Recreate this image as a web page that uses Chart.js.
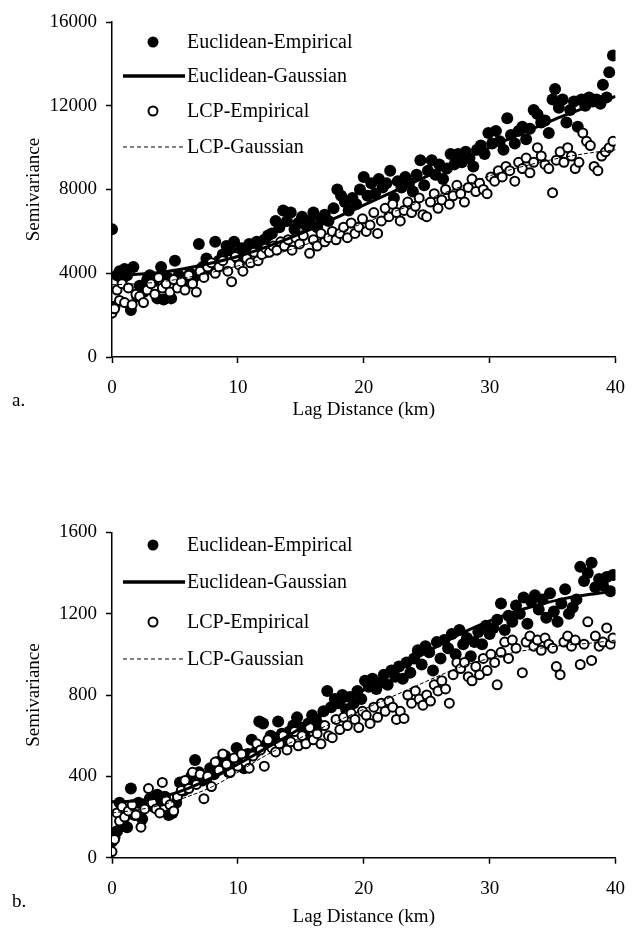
<!DOCTYPE html>
<html>
<head>
<meta charset="utf-8">
<script src="https://cdn.jsdelivr.net/npm/chart.js@4.4.1/dist/chart.umd.min.js"></script>
<style>
  body { margin: 0; background: #fff; width: 639px; height: 931px; position: relative; overflow: hidden; }
  canvas { position: absolute; left: 0; }
  .tag { position: absolute; left: 12px; font: 19px "Liberation Serif", "Times New Roman", serif; color: #000; }
</style>
</head>
<body>
<canvas id="chartA" width="639" height="440" style="top:0"></canvas>
<canvas id="chartB" width="639" height="471" style="top:460px"></canvas>
<div class="tag" style="top:389px">a.</div>
<div class="tag" style="top:890px">b.</div>
<script>
// lag distance (km) ticks
const lagTicks = [0, 10, 20, 30, 40];
const semTicksA = [0, 4000, 8000, 12000, 16000];
const semTicksB = [0, 400, 800, 1200, 1600];

// panel a - empirical semivariance, [lag, semivariance]
const eucEmpA = [
    [0.0, 6100], [0.2, 2400], [0.4, 3900], [0.6, 4100], [0.8, 3700], [1.0, 4200], [1.2, 3900], [1.5, 2250],
    [1.7, 4300], [2.0, 2900], [2.2, 3400], [2.5, 3100], [2.8, 3700], [3.0, 3900], [3.3, 3600], [3.6, 2800],
    [3.9, 4300], [4.1, 2750], [4.4, 3800], [4.7, 2800], [5.0, 4600], [5.3, 3900], [5.6, 3400], [5.9, 3700],
    [6.2, 4000], [6.5, 3800], [6.9, 5400], [7.2, 4300], [7.5, 4700], [7.8, 4200], [8.2, 5500], [8.5, 4600],
    [8.8, 4900], [9.1, 5300], [9.4, 5100], [9.7, 5500], [10.0, 4700], [10.3, 5200], [10.6, 4900], [10.9, 5400],
    [11.2, 5100], [11.5, 5500], [11.8, 5300], [12.1, 5600], [12.4, 5800], [12.7, 5900], [13.0, 6500], [13.3, 6200],
    [13.6, 7000], [13.9, 6500], [14.2, 6900], [14.5, 6100], [14.8, 6400], [15.1, 6700], [15.4, 6300], [15.7, 6500],
    [16.0, 6900], [16.3, 6200], [16.6, 6600], [16.9, 6800], [17.2, 6500], [17.6, 7100], [17.9, 8000], [18.2, 7700],
    [18.5, 7400], [18.8, 7000], [19.1, 7600], [19.4, 7300], [19.7, 8000], [20.0, 8600], [20.3, 7700], [20.6, 8300],
    [20.9, 7800], [21.2, 8500], [21.5, 8100], [21.8, 8300], [22.1, 8900], [22.4, 7600], [22.7, 8400], [23.0, 8100],
    [23.3, 8600], [23.6, 8300], [23.9, 7900], [24.2, 8700], [24.5, 9400], [24.8, 8200], [25.1, 8900], [25.4, 9400],
    [25.7, 8700], [26.0, 9200], [26.3, 8500], [26.6, 9000], [26.9, 9700], [27.2, 9200], [27.5, 9700], [27.8, 9300],
    [28.1, 9800], [28.4, 9500], [28.7, 9100], [29.0, 9900], [29.3, 10100], [29.6, 9700], [29.9, 10700], [30.2, 10200],
    [30.5, 10800], [30.8, 10300], [31.1, 9900], [31.4, 11400], [31.7, 10600], [32.0, 10200], [32.3, 10800], [32.6, 11000],
    [32.9, 10400], [33.2, 10900], [33.5, 11800], [33.8, 11600], [34.1, 11200], [34.4, 11300], [34.7, 10700], [35.0, 12300],
    [35.2, 12800], [35.5, 11900], [35.8, 12300], [36.1, 11200], [36.4, 11800], [36.7, 12200], [37.0, 11000], [37.3, 12300],
    [37.6, 12000], [37.9, 12400], [38.2, 12200], [38.5, 12300], [38.8, 12100], [39.0, 13000], [39.3, 12400], [39.5, 13600],
    [39.8, 14400]
];
const lcpEmpA = [
    [0.0, 2100], [0.2, 2300], [0.4, 3200], [0.6, 2700], [0.8, 3500], [1.0, 2600], [1.3, 3300], [1.6, 2500],
    [1.9, 3000], [2.2, 2900], [2.5, 2600], [2.8, 3200], [3.1, 3500], [3.4, 3000], [3.7, 3800], [4.0, 3300],
    [4.3, 3500], [4.6, 3100], [4.9, 3700], [5.2, 3300], [5.5, 3600], [5.8, 3200], [6.1, 3900], [6.4, 3500],
    [6.7, 3100], [7.0, 4100], [7.3, 3800], [7.6, 4300], [7.9, 4500], [8.2, 4000], [8.5, 4300], [8.8, 4600],
    [9.2, 4100], [9.5, 3600], [9.8, 4800], [10.1, 4400], [10.4, 4100], [10.7, 4700], [11.0, 4500], [11.3, 5000],
    [11.6, 4600], [11.9, 4900], [12.2, 5200], [12.5, 5000], [12.8, 5300], [13.1, 5100], [13.4, 5500], [13.7, 5300],
    [14.0, 5600], [14.3, 5100], [14.6, 5700], [14.9, 5400], [15.2, 5800], [15.7, 4950], [16.0, 5600], [16.3, 5300],
    [16.6, 5900], [16.9, 5500], [17.2, 5700], [17.5, 6000], [17.8, 5600], [18.1, 5900], [18.4, 6200], [18.7, 5700],
    [19.0, 6400], [19.3, 5900], [19.6, 6200], [19.9, 6600], [20.2, 6000], [20.5, 6300], [20.8, 6900], [21.1, 5900],
    [21.4, 6500], [21.7, 7100], [22.0, 6700], [22.3, 7300], [22.6, 6900], [22.9, 6500], [23.2, 7000], [23.5, 7400],
    [23.8, 6900], [24.1, 7200], [24.4, 7600], [24.7, 6800], [25.0, 6700], [25.3, 7400], [25.6, 7800], [25.9, 7100],
    [26.2, 7500], [26.5, 8000], [26.8, 7300], [27.1, 7700], [27.4, 8200], [27.7, 7800], [28.0, 7400], [28.3, 8100],
    [28.6, 8500], [28.9, 7900], [29.2, 8300], [29.5, 8000], [29.8, 7800], [30.1, 8600], [30.4, 8400], [30.7, 8900],
    [31.0, 8600], [31.3, 9100], [31.6, 8900], [32.0, 8400], [32.3, 9300], [32.6, 9000], [32.9, 9500], [33.2, 8800],
    [33.5, 9300], [33.8, 10000], [34.1, 9600], [34.4, 9200], [34.7, 9000], [35.0, 7850], [35.3, 9400], [35.6, 9800],
    [35.9, 9300], [36.2, 10000], [36.5, 9600], [36.8, 9000], [37.1, 9300], [37.4, 10700], [37.7, 10300], [38.0, 10100],
    [38.3, 9100], [38.6, 8900], [38.9, 9600], [39.2, 9800], [39.5, 10000], [39.8, 10300]
];
// panel a - fitted gaussian models
const eucGauA = [
    [0, 3900], [2, 3950], [4, 4050], [6, 4250], [8, 4500], [10, 4800], [12, 5200], [14, 5650], [16, 6150], [18, 6700],
    [20, 7250], [22, 7800], [24, 8350], [26, 8900], [28, 9450], [30, 10000], [32, 10550], [34, 11050], [36, 11550], [38, 12000], [40, 12450]
];
const lcpGauA = [
    [0, 3450], [2, 3500], [4, 3600], [6, 3800], [8, 4050], [10, 4350], [12, 4700], [14, 5100], [16, 5500], [18, 5950],
    [20, 6400], [22, 6850], [24, 7300], [26, 7750], [28, 8200], [30, 8650], [32, 9000], [34, 9300], [36, 9550], [38, 9750], [40, 9900]
];

// panel b - empirical semivariance
const eucEmpB = [
    [0.0, 80], [0.2, 100], [0.4, 130], [0.6, 270], [0.8, 160], [1.0, 200], [1.2, 150], [1.5, 340],
    [1.8, 210], [2.1, 270], [2.4, 190], [2.7, 260], [3.0, 290], [3.3, 250], [3.6, 310], [3.9, 280],
    [4.2, 300], [4.5, 210], [4.8, 220], [5.1, 270], [5.4, 370], [5.7, 330], [6.0, 360], [6.3, 400],
    [6.6, 480], [6.9, 420], [7.2, 380], [7.5, 390], [7.8, 440], [8.1, 410], [8.4, 470], [8.7, 450],
    [9.0, 500], [9.3, 420], [9.6, 480], [9.9, 540], [10.2, 470], [10.5, 440], [10.8, 510], [11.1, 580],
    [11.4, 520], [11.7, 670], [12.0, 660], [12.3, 560], [12.6, 600], [12.9, 590], [13.2, 670], [13.5, 610],
    [13.8, 560], [14.1, 620], [14.4, 650], [14.7, 690], [15.0, 640], [15.3, 600], [15.6, 660], [15.9, 700],
    [16.2, 680], [16.5, 650], [16.8, 720], [17.1, 820], [17.4, 740], [17.7, 780], [18.0, 760], [18.3, 800],
    [18.6, 730], [18.9, 790], [19.2, 760], [19.5, 820], [19.8, 780], [20.1, 870], [20.4, 840], [20.7, 880],
    [21.0, 830], [21.3, 860], [21.6, 900], [21.9, 850], [22.2, 920], [22.5, 890], [22.8, 940], [23.1, 880],
    [23.4, 960], [23.7, 910], [24.0, 980], [24.3, 1020], [24.6, 950], [24.9, 1040], [25.2, 1010], [25.5, 920],
    [25.8, 1060], [26.1, 980], [26.4, 1070], [26.7, 1030], [27.0, 1100], [27.3, 1000], [27.6, 1120], [27.9, 1050],
    [28.2, 1080], [28.5, 990], [28.8, 1060], [29.1, 1110], [29.4, 1050], [29.7, 1140], [30.0, 1100], [30.3, 1130],
    [30.6, 1170], [30.9, 1250], [31.2, 1120], [31.5, 1190], [31.8, 1160], [32.1, 1240], [32.4, 1200], [32.7, 1280],
    [33.0, 1150], [33.3, 1260], [33.6, 1290], [33.9, 1220], [34.2, 1270], [34.5, 1180], [34.8, 1300], [35.1, 1210],
    [35.4, 1160], [35.7, 1250], [36.0, 1320], [36.3, 1200], [36.6, 1230], [36.9, 1270], [37.2, 1430], [37.5, 1360],
    [37.8, 1400], [38.1, 1450], [38.4, 1330], [38.7, 1370], [39.0, 1340], [39.3, 1380], [39.6, 1310], [39.8, 1390]
];
const lcpEmpB = [
    [0.0, 30], [0.2, 90], [0.4, 220], [0.6, 180], [0.8, 250], [1.0, 200], [1.3, 230], [1.6, 260],
    [1.9, 210], [2.3, 150], [2.6, 240], [2.9, 340], [3.2, 270], [3.5, 240], [3.8, 220], [4.0, 370],
    [4.3, 280], [4.6, 260], [4.9, 230], [5.2, 300], [5.5, 330], [5.8, 380], [6.1, 340], [6.4, 420],
    [6.7, 360], [7.0, 410], [7.3, 290], [7.6, 400], [7.9, 350], [8.2, 470], [8.5, 430], [8.8, 510],
    [9.1, 460], [9.4, 420], [9.7, 490], [10.0, 450], [10.3, 510], [10.6, 470], [10.9, 440], [11.2, 500],
    [11.5, 560], [11.8, 530], [12.1, 450], [12.4, 580], [12.7, 540], [13.0, 520], [13.3, 560], [13.6, 600],
    [13.9, 530], [14.2, 570], [14.5, 620], [14.8, 550], [15.1, 600], [15.4, 560], [15.7, 640], [16.0, 580],
    [16.3, 610], [16.6, 560], [16.9, 650], [17.2, 600], [17.5, 590], [17.8, 680], [18.1, 630], [18.4, 690],
    [18.7, 650], [19.0, 710], [19.3, 680], [19.6, 640], [19.9, 720], [20.2, 700], [20.5, 660], [20.8, 740],
    [21.1, 690], [21.4, 760], [21.7, 720], [22.0, 770], [22.3, 740], [22.6, 680], [22.9, 720], [23.2, 685],
    [23.5, 800], [23.8, 760], [24.1, 820], [24.4, 780], [24.7, 750], [25.0, 800], [25.3, 770], [25.6, 850],
    [25.9, 820], [26.2, 870], [26.5, 830], [26.8, 760], [27.1, 900], [27.4, 960], [27.7, 930], [28.0, 960],
    [28.3, 890], [28.6, 870], [28.9, 940], [29.2, 900], [29.5, 980], [29.8, 920], [30.1, 1000], [30.4, 960],
    [30.6, 850], [30.9, 1010], [31.2, 1060], [31.5, 980], [31.8, 1070], [32.1, 1030], [32.6, 910], [32.9, 1060],
    [33.2, 1090], [33.5, 1040], [33.8, 1070], [34.1, 1020], [34.4, 1080], [34.7, 1050], [35.0, 1030], [35.3, 940],
    [35.6, 900], [35.9, 1060], [36.2, 1090], [36.5, 1040], [36.8, 1070], [37.2, 950], [37.5, 1050], [37.8, 1160],
    [38.1, 970], [38.4, 1090], [38.7, 1040], [39.0, 1060], [39.3, 1130], [39.6, 1050], [39.8, 1080]
];
// panel b - fitted gaussian models
const eucGauB = [
    [0, 275], [2, 280], [4, 300], [6, 340], [8, 395], [10, 460], [12, 530], [14, 600], [16, 675], [18, 750],
    [20, 825], [22, 900], [24, 975], [26, 1045], [28, 1110], [30, 1165], [32, 1210], [34, 1245], [36, 1275], [38, 1295], [40, 1310]
];
const lcpGauB = [
    [0, 220], [2, 235], [4, 260], [6, 300], [8, 350], [10, 420], [12, 495], [14, 560], [16, 620], [18, 675],
    [20, 730], [22, 785], [24, 840], [26, 895], [28, 945], [30, 980], [32, 1010], [34, 1030], [36, 1045], [38, 1055], [40, 1070]
];

const serif = '"Liberation Serif", "Times New Roman", serif';
const legendLabels = ['Euclidean-Empirical', 'Euclidean-Gaussian', 'LCP-Empirical', 'LCP-Gaussian'];

function toXY(arr) {
    return arr.map(function (p) { return { x: p[0], y: p[1] }; });
}

// legend drawn inside the plot, rows given as offsets from the plot top
const insideLegend = {
    id: 'insideLegend',
    afterDraw: function (chart, args, opts) {
        const ctx = chart.ctx;
        const left = chart.chartArea.left;
        const top = chart.chartArea.top;
        ctx.save();
        ctx.font = '20px ' + serif;
        ctx.fillStyle = '#000';
        ctx.textBaseline = 'middle';
        opts.rows.forEach(function (dy, i) {
            const y = top + dy;
            ctx.strokeStyle = '#000';
            if (i === 0) {
                ctx.beginPath();
                ctx.arc(left + 41, y, 5.5, 0, Math.PI * 2);
                ctx.fill();
            } else if (i === 1) {
                ctx.lineWidth = 3.5;
                ctx.setLineDash([]);
                ctx.beginPath();
                ctx.moveTo(left + 11, y);
                ctx.lineTo(left + 73, y);
                ctx.stroke();
            } else if (i === 2) {
                ctx.lineWidth = 2;
                ctx.fillStyle = '#fff';
                ctx.beginPath();
                ctx.arc(left + 41, y, 4.5, 0, Math.PI * 2);
                ctx.fill();
                ctx.stroke();
                ctx.fillStyle = '#000';
            } else {
                ctx.lineWidth = 1;
                ctx.setLineDash([4, 3]);
                ctx.beginPath();
                ctx.moveTo(left + 11, y);
                ctx.lineTo(left + 73, y);
                ctx.stroke();
                ctx.setLineDash([]);
            }
            ctx.fillText(legendLabels[i], left + 75, y + 1);
        });
        ctx.restore();
    }
};

function plainTick(value) {
    return String(value);
}

function makeChart(id, emp1, emp2, gau1, gau2, yTicks, pad, xHeight, xTitlePad, rows) {
    const ctx = document.getElementById(id).getContext('2d');
    return new Chart(ctx, {
        type: 'scatter',
        data: {
            datasets: [
                {
                    label: 'Euclidean-Gaussian', type: 'line', data: toXY(gau1), order: 1,
                    borderColor: '#000', borderWidth: 3, pointRadius: 0, fill: false,
                    tension: 0.4, cubicInterpolationMode: 'monotone'
                },
                {
                    label: 'LCP-Gaussian', type: 'line', data: toXY(gau2), order: 2,
                    borderColor: '#000', borderWidth: 1, borderDash: [4, 2], pointRadius: 0, fill: false,
                    tension: 0.4, cubicInterpolationMode: 'monotone'
                },
                {
                    label: 'LCP-Empirical', data: toXY(emp2), order: 3,
                    pointRadius: 4.5, pointBorderWidth: 2,
                    pointBackgroundColor: '#fff', pointBorderColor: '#000'
                },
                {
                    label: 'Euclidean-Empirical', data: toXY(emp1), order: 4,
                    pointRadius: 6, pointBorderWidth: 0,
                    pointBackgroundColor: '#000', pointBorderColor: '#000'
                }
            ]
        },
        options: {
            responsive: false,
            animation: false,
            layout: { padding: { top: pad, right: 10, left: 0, bottom: 0 } },
            plugins: {
                legend: { display: false },
                tooltip: { enabled: false },
                insideLegend: { rows: rows }
            },
            scales: {
                x: {
                    type: 'linear', min: 0, max: 40,
                    afterBuildTicks: function (axis) { axis.ticks = lagTicks.map(function (v) { return { value: v }; }); },
                    afterFit: function (axis) { axis.height = xHeight; },
                    grid: { drawOnChartArea: false, tickLength: 6, tickColor: '#000', tickWidth: 1.5 },
                    border: { color: '#000', width: 1.5 },
                    ticks: { color: '#000', padding: 14, font: { family: serif, size: 19 }, callback: plainTick },
                    title: {
                        display: true, text: 'Lag Distance (km)', color: '#000',
                        font: { family: serif, size: 19 }, padding: { top: 4, bottom: xTitlePad }
                    }
                },
                y: {
                    type: 'linear', min: 0, max: yTicks[yTicks.length - 1],
                    afterBuildTicks: function (axis) { axis.ticks = yTicks.map(function (v) { return { value: v }; }); },
                    afterFit: function (axis) { axis.width = 112; },
                    grid: { drawOnChartArea: false, tickLength: 6, tickColor: '#000', tickWidth: 1.5 },
                    border: { color: '#000', width: 1.5 },
                    ticks: { color: '#000', padding: 9, font: { family: serif, size: 19 }, callback: plainTick },
                    title: {
                        display: true, text: 'Semivariance', color: '#000',
                        font: { family: serif, size: 19 }, padding: { top: 23, bottom: 0 }
                    }
                }
            }
        },
        plugins: [insideLegend]
    });
}

makeChart('chartA', eucEmpA, lcpEmpA, eucGauA, lcpGauA, semTicksA, 22, 83, 18.6, [20, 54, 89, 125]);
makeChart('chartB', eucEmpB, lcpEmpB, eucGauB, lcpGauB, semTicksB, 72.3, 73.3, 2.6, [12.7, 49.7, 89.7, 126.7]);
</script>
</body>
</html>
